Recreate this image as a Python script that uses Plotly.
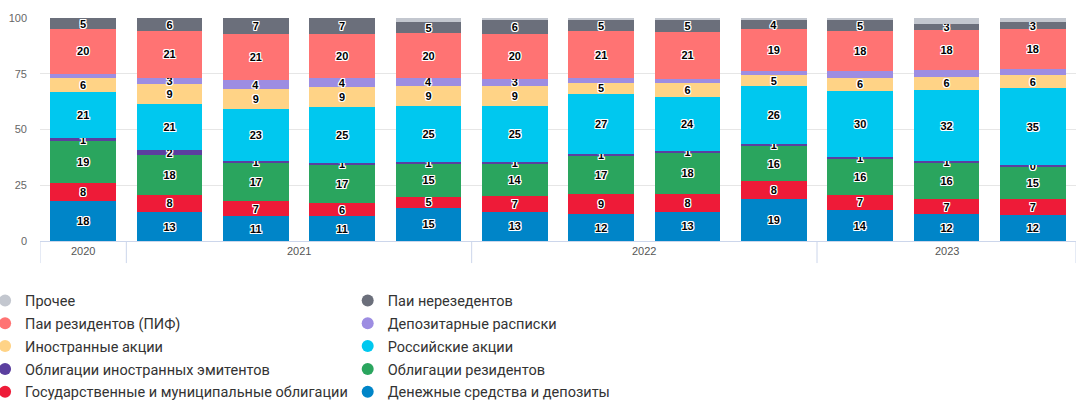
import plotly.graph_objects as go

periods = ["2020 Q4", "2021 Q1", "2021 Q2", "2021 Q3", "2021 Q4",
           "2022 Q1", "2022 Q2", "2022 Q3", "2022 Q4",
           "2023 Q1", "2023 Q2", "2023 Q3"]
years = ["2020", "2021", "2021", "2021", "2021",
         "2022", "2022", "2022", "2022",
         "2023", "2023", "2023"]

cash = [18, 13, 11, 11, 15, 13, 12, 13, 19, 14, 12, 12]
gov_bonds = [8, 8, 7, 6, 5, 7, 9, 8, 8, 7, 7, 7]
res_bonds = [19, 18, 17, 17, 15, 14, 17, 18, 16, 16, 16, 15]
foreign_bonds = [1, 2, 1, 1, 1, 1, 1, 1, 1, 1, 1, 0.4]
ru_shares = [21, 21, 23, 25, 25, 25, 27, 24, 26, 30, 32, 35]
foreign_shares = [6, 9, 9, 9, 9, 9, 5, 6, 5, 6, 6, 6]
dep_receipts = [2, 3, 4, 4, 4, 3, 2, 2, 2, 3, 3, 3]
res_funds = [20, 21, 21, 20, 20, 20, 21, 21, 19, 18, 18, 18]
nonres_funds = [5, 6, 7, 7, 5, 6, 5, 5, 4, 5, 3, 3]
other = [0, 0, 0, 0, 2, 1, 1, 1, 1, 1, 2.5, 2]

# (name, values, colour, legend column, label mask)
series = [
    ("Денежные средства и депозиты", cash, "#0085c8", "legend2", None),
    ("Государственные и муниципальные облигации", gov_bonds, "#ee1b38", "legend", None),
    ("Облигации резидентов", res_bonds, "#2aa55e", "legend2", None),
    ("Облигации иностранных эмитентов", foreign_bonds, "#5b3f9f", "legend", None),
    ("Российские акции", ru_shares, "#00c8ef", "legend2", None),
    ("Иностранные акции", foreign_shares, "#ffd386", "legend", None),
    ("Депозитарные расписки", dep_receipts, "#9d8de2", "legend2",
     [False, True, True, True, True, True, False, False, False, False, False, False]),
    ("Паи резидентов (ПИФ)", res_funds, "#ff7373", "legend", None),
    ("Паи нерезедентов", nonres_funds, "#6b6f7b", "legend2", None),
    ("Прочее", other, "#c3c7cf", "legend", [False] * 12),
]

shadow = ("1px 1px 0 #fff, -1px -1px 0 #fff, 1px -1px 0 #fff, -1px 1px 0 #fff, "
          "0 1px 0 #fff, 0 -1px 0 #fff, 1px 0 0 #fff, -1px 0 0 #fff")

fig = go.Figure()
for name, vals, col, leg, mask in series:
    if mask is None:
        mask = [True] * len(vals)
    text = [f"{v:.0f}" if m else "" for v, m in zip(vals, mask)]
    fig.add_trace(go.Bar(
        x=periods, y=vals, name=name, marker=dict(color=col, line=dict(width=0)),
        text=text, textposition="inside", insidetextanchor="middle", textangle=0,
        insidetextfont=dict(family="Liberation Sans", size=11, color="#000000",
                            weight="bold", shadow=shadow),
        showlegend=False, hoverinfo="skip",
    ))
# legend entries, top of the stack first
for i, (name, vals, col, leg, mask) in enumerate(reversed(series)):
    fig.add_trace(go.Scatter(
        x=[None], y=[None], mode="markers", name=name, legend=leg,
        legendgroup=f"g{i}",
        marker=dict(symbol="circle", size=12, color=col),
        showlegend=True,
    ))

# year groups under the axis
shapes = []
annotations = []
bounds = [-0.5]
for i in range(1, len(years)):
    if years[i] != years[i - 1]:
        bounds.append(i - 0.5)
bounds.append(len(years) - 0.5)
for b in bounds:
    shapes.append(dict(type="line", xref="x", yref="paper", x0=b, x1=b,
                       y0=0, y1=-0.099, line=dict(color="#ccd6eb", width=1)))
for a, b in zip(bounds[:-1], bounds[1:]):
    yr = years[int(a + 0.5)]
    annotations.append(dict(x=(a + b) / 2, xref="x", y=-0.045, yref="paper",
                            text=yr, showarrow=False, yanchor="middle",
                            font=dict(family="Liberation Sans", size=11, color="#555555")))

legend_style = dict(
    orientation="v", traceorder="grouped", tracegroupgap=1,
    font=dict(family="Roboto", size=14.5, color="#333333"),
    bgcolor="rgba(0,0,0,0)", xanchor="left", yanchor="top", itemclick=False,
)

fig.update_layout(
    width=1084, height=408,
    margin=dict(l=40, r=8, t=18, b=167, autoexpand=False),
    barmode="stack", barnorm="percent", bargap=0.236,
    plot_bgcolor="#ffffff", paper_bgcolor="#ffffff",
    uniformtext=dict(minsize=11, mode="show"),
    xaxis=dict(type="category", range=[-0.5, 11.5], showticklabels=False,
               showline=True, linecolor="#ccd6eb", linewidth=1, ticks="",
               showgrid=False, zeroline=False),
    yaxis=dict(range=[0, 100], tickvals=[0, 25, 50, 75, 100],
               gridcolor="#e6e6e6", gridwidth=1, zeroline=False, showline=False,
               tickfont=dict(family="Liberation Sans", size=11, color="#666666"),
               ticklabelstandoff=12),
    shapes=shapes, annotations=annotations,
    legend=dict(x=-0.053, y=-0.195, **legend_style),
    legend2=dict(x=0.297, y=-0.195, **legend_style),
    hovermode=False,
)

fig.write_html("out.html")
